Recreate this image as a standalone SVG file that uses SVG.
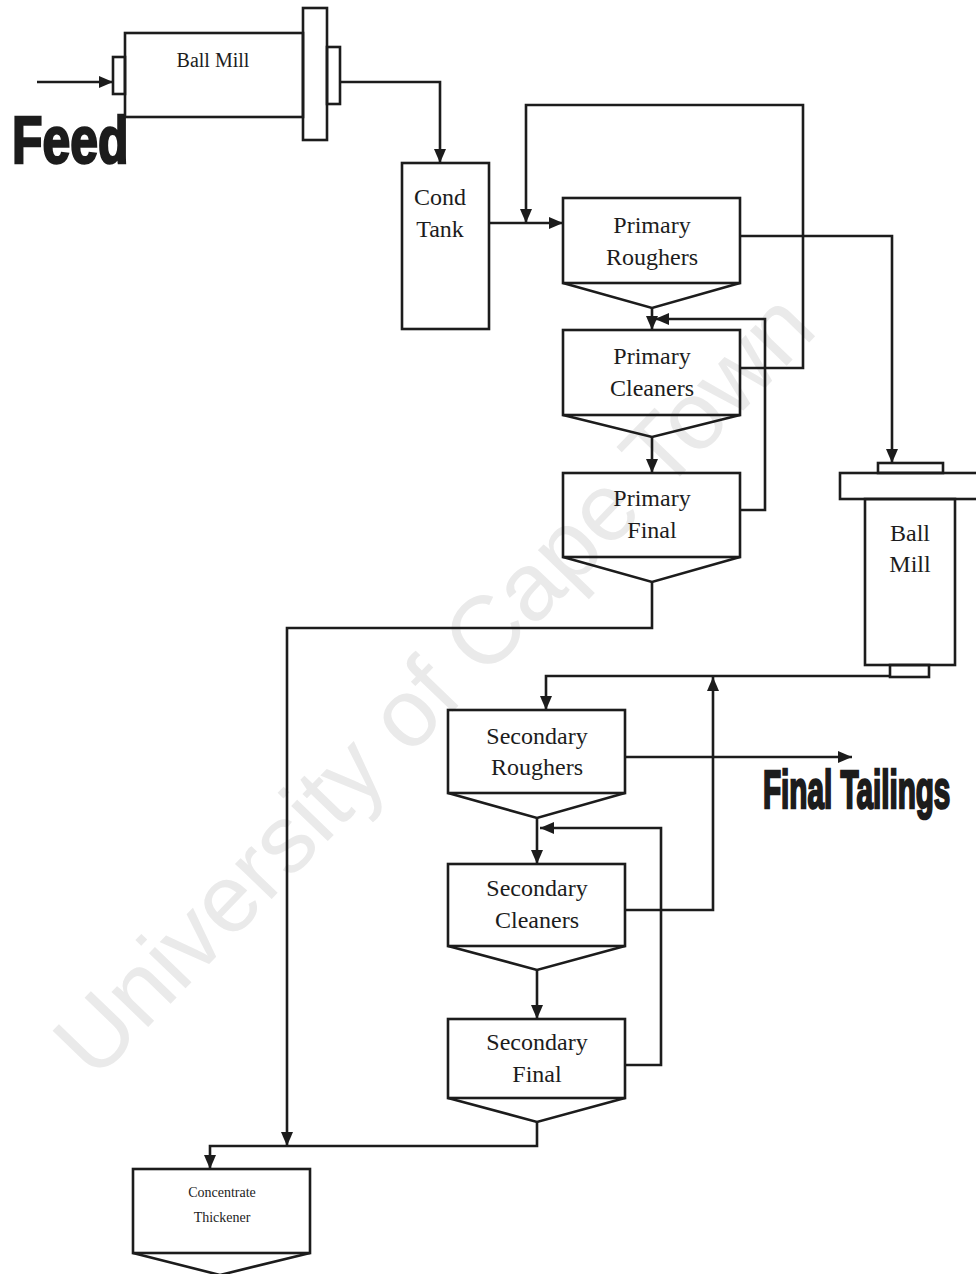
<svg xmlns="http://www.w3.org/2000/svg" width="976" height="1274" viewBox="0 0 976 1274">
<style>
.s{fill:none;stroke:#1c1c1c;stroke-width:2.6;stroke-linejoin:miter}
.b{fill:none;stroke:#1c1c1c;stroke-width:2.6}
.t{font-family:"Liberation Serif","Times New Roman",serif;font-size:24px;fill:#1c1c1c;text-anchor:middle}
.sm{font-family:"Liberation Serif","Times New Roman",serif;font-size:14px;fill:#1c1c1c;text-anchor:middle}
.big{font-family:"Liberation Sans",Arial,sans-serif;font-weight:bold;fill:#1c1c1c;stroke:#1c1c1c;stroke-width:2.5}
.wm{font-family:"Liberation Sans",Arial,sans-serif;font-size:96px;fill:#eaeaea}
</style>
<defs>
<marker id="ah" viewBox="0 0 14 12" refX="14" refY="6" markerWidth="14" markerHeight="12" markerUnits="userSpaceOnUse" orient="auto">
<path d="M0,0 L14,6 L0,12 z" fill="#1c1c1c"/>
</marker>
</defs>
<rect width="976" height="1274" fill="#fff"/>
<text class="wm" x="95" y="1082" transform="rotate(-46 95 1082)" textLength="1043" lengthAdjust="spacingAndGlyphs">University of Cape Town</text>

<g id="connectors">
<path class="s" d="M37,82 H113" marker-end="url(#ah)"/>
<path class="s" d="M340,82 H440 V163" marker-end="url(#ah)"/>
<path class="s" d="M489,223 H563" marker-end="url(#ah)"/>
<path class="s" d="M740,368 H803 V105 H526 V223" marker-end="url(#ah)"/>
<path class="s" d="M740,236 H892 V463" marker-end="url(#ah)"/>
<path class="s" d="M652,308 V330" marker-end="url(#ah)"/>
<path class="s" d="M740,510 H765 V319 H655" marker-end="url(#ah)"/>
<path class="s" d="M652,437 V473" marker-end="url(#ah)"/>
<path class="s" d="M652,582 V628 H287 V1146" marker-end="url(#ah)"/>
<path class="s" d="M890,676 H546 V710" marker-end="url(#ah)"/>
<path class="s" d="M625,910 H713 V677" marker-end="url(#ah)"/>
<path class="s" d="M625,757 H852" marker-end="url(#ah)"/>
<path class="s" d="M537,818 V864" marker-end="url(#ah)"/>
<path class="s" d="M625,1065 H661 V828 H540" marker-end="url(#ah)"/>
<path class="s" d="M537,970 V1019" marker-end="url(#ah)"/>
<path class="s" d="M537,1122 V1146 H210 V1169" marker-end="url(#ah)"/>
</g>

<g id="feed-label">
<text class="big" transform="translate(12,163) scale(0.745,1)" x="0" y="0" font-size="67">Feed</text>
</g>

<g id="ball-mill-1">
<rect class="b" x="113" y="57" width="12" height="37"/>
<rect class="b" x="125" y="33" width="178" height="84"/>
<rect class="b" x="303" y="8" width="24" height="132"/>
<rect class="b" x="327" y="47" width="13" height="57"/>
<text class="t" x="213" y="67" style="font-size:20px">Ball Mill</text>
</g>

<g id="cond-tank">
<rect class="b" x="402" y="163" width="87" height="166"/>
<text class="t" x="440" y="205">Cond</text>
<text class="t" x="440" y="237">Tank</text>
</g>

<g id="primary-roughers">
<rect class="b" x="563" y="198" width="177" height="85"/>
<path class="s" d="M563,283 L652,308 L740,283"/>
<text class="t" x="652" y="233">Primary</text>
<text class="t" x="652" y="265">Roughers</text>
</g>

<g id="primary-cleaners">
<rect class="b" x="563" y="330" width="177" height="85"/>
<path class="s" d="M563,415 L652,437 L740,415"/>
<text class="t" x="652" y="364">Primary</text>
<text class="t" x="652" y="396">Cleaners</text>
</g>

<g id="primary-final">
<rect class="b" x="563" y="473" width="177" height="84"/>
<path class="s" d="M563,557 L652,582 L740,557"/>
<text class="t" x="652" y="506">Primary</text>
<text class="t" x="652" y="538">Final</text>
</g>

<g id="ball-mill-2">
<rect class="b" x="878" y="463" width="65" height="10"/>
<rect class="b" x="840" y="473" width="150" height="26"/>
<rect class="b" x="865" y="499" width="90" height="166"/>
<rect class="b" x="890" y="665" width="39" height="12"/>
<text class="t" x="910" y="541">Ball</text>
<text class="t" x="910" y="572">Mill</text>
</g>

<g id="secondary-roughers">
<rect class="b" x="448" y="710" width="177" height="83"/>
<path class="s" d="M448,793 L537,818 L625,793"/>
<text class="t" x="537" y="744">Secondary</text>
<text class="t" x="537" y="775">Roughers</text>
</g>

<g id="final-tailings-label">
<text class="big" transform="translate(763,808) scale(0.56,1)" x="0" y="0" font-size="53">Final Tailings</text>
</g>

<g id="secondary-cleaners">
<rect class="b" x="448" y="864" width="177" height="82"/>
<path class="s" d="M448,946 L537,970 L625,946"/>
<text class="t" x="537" y="896">Secondary</text>
<text class="t" x="537" y="928">Cleaners</text>
</g>

<g id="secondary-final">
<rect class="b" x="448" y="1019" width="177" height="79"/>
<path class="s" d="M448,1098 L537,1122 L625,1098"/>
<text class="t" x="537" y="1050">Secondary</text>
<text class="t" x="537" y="1082">Final</text>
</g>

<g id="concentrate-thickener">
<rect class="b" x="133" y="1169" width="177" height="84"/>
<path class="s" d="M133,1253 L220,1275 L310,1253"/>
<text class="sm" x="222" y="1197">Concentrate</text>
<text class="sm" x="222" y="1222">Thickener</text>
</g>
</svg>
